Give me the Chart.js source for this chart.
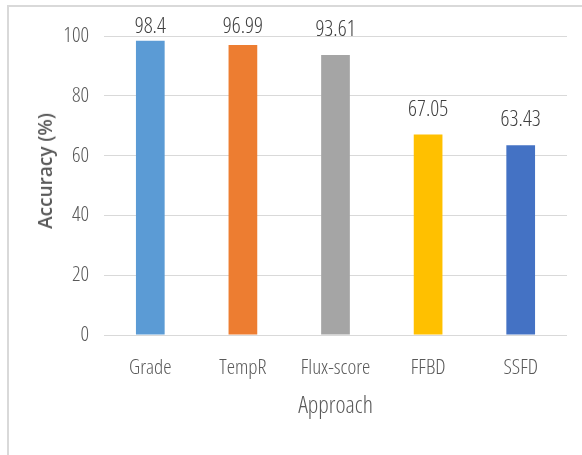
<!DOCTYPE html>
<html>
<head>
<meta charset="utf-8">
<script src="https://cdn.jsdelivr.net/npm/chart.js@4.4.0/dist/chart.umd.min.js"></script>
<style>
  html, body { margin: 0; padding: 0; background: #fff; }
  #wrap { position: relative; width: 582px; height: 455px; overflow: hidden; }
  #frame { position: absolute; left: 7px; top: 5px; width: 600px; height: 500px;
           border-top: 2px solid #d9d9d9; border-left: 2px solid #d9d9d9; }
  #chart { position: absolute; left: 0; top: 0; }
  #ytitle { position: absolute; left: 45px; top: 171px; white-space: nowrap;
            transform: translate(-50%, -50%) rotate(-90deg);
            font: 600 19px "Open Sans", sans-serif; font-stretch: normal; color: #595959; }
</style>
</head>
<body>
<div id="wrap">
  <div id="frame"></div>
  <canvas id="chart" width="582" height="455"></canvas>
  <div id="ytitle">Accuracy (%)</div>
</div>
<script>
const approaches = ['Grade', 'TempR', 'Flux-score', 'FFBD', 'SSFD'];
const accuracy = [98.4, 96.99, 93.61, 67.05, 63.43];
const barColors = ['#5b9bd5', '#ed7d31', '#a5a5a5', '#ffc000', '#4472c4'];
const yTicks = [0, 20, 40, 60, 80, 100];

// "300 condensed" goes into the weight slot so the canvas font string picks the light narrow face
const narrow = (size) => ({ family: '"Open Sans", sans-serif', weight: '300 condensed', size: size });

// value labels above each bar (kept below the top line like Excel does)
const valueLabels = {
  id: 'valueLabels',
  afterDatasetsDraw(chart) {
    const ctx = chart.ctx;
    const meta = chart.getDatasetMeta(0);
    ctx.save();
    ctx.font = '300 condensed 22px "Open Sans", sans-serif';
    ctx.fillStyle = '#404040';
    ctx.textAlign = 'center';
    ctx.textBaseline = 'alphabetic';
    meta.data.forEach((bar, i) => {
      const y = Math.max(bar.y - 19, chart.chartArea.top - 3);
      ctx.fillText(String(accuracy[i]), bar.x, y);
    });
    ctx.restore();
  }
};

new Chart(document.getElementById('chart'), {
  type: 'bar',
  data: {
    labels: approaches,
    datasets: [{
      data: accuracy,
      backgroundColor: barColors,
      categoryPercentage: 1,
      barPercentage: 0.31
    }]
  },
  options: {
    responsive: false,
    animation: false,
    layout: { padding: { left: 0, right: 15, top: 36, bottom: 0 } },
    plugins: {
      legend: { display: false },
      tooltip: { enabled: false }
    },
    scales: {
      x: {
        grid: { display: false, drawTicks: false },
        border: { display: false },
        ticks: { color: '#595959', padding: 20, font: narrow(21) },
        title: {
          display: true,
          text: 'Approach',
          color: '#595959',
          font: narrow(24),
          padding: { top: 0, bottom: 34 }
        },
        afterFit(s) { s.height = 120; }
      },
      y: {
        min: 0,
        max: 100,
        afterBuildTicks(s) { s.ticks = yTicks.map(v => ({ value: v })); },
        grid: { color: '#d9d9d9', lineWidth: 1, drawTicks: false },
        border: { display: false },
        ticks: { color: '#595959', padding: 15, font: narrow(21) },
        afterFit(s) { s.width = 104; }
      }
    }
  },
  plugins: [valueLabels]
});
</script>
</body>
</html>
